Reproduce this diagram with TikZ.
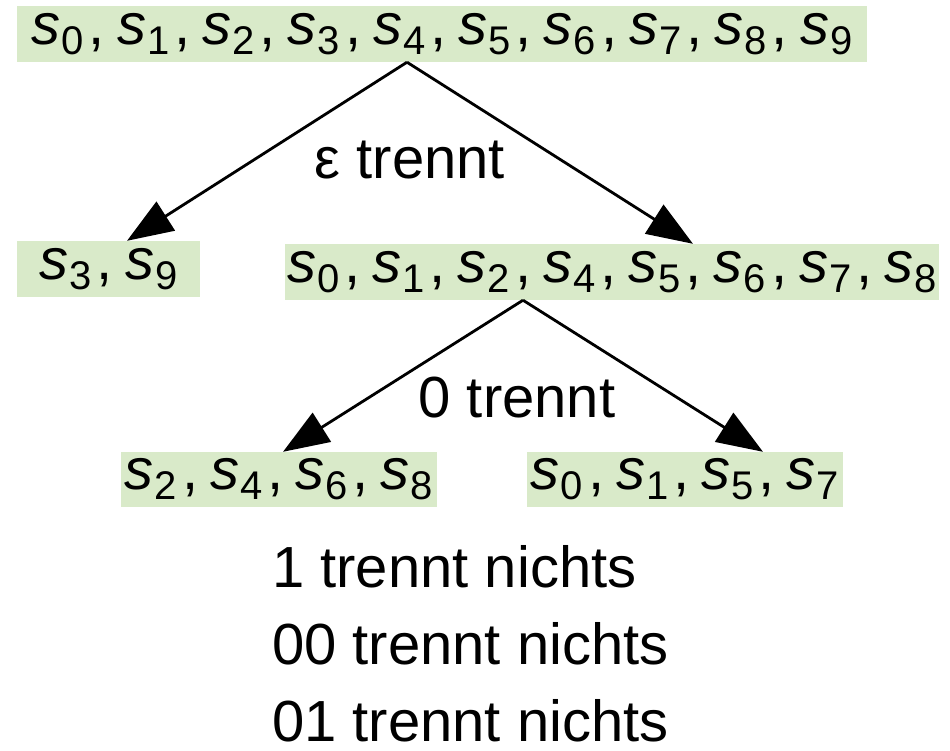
\documentclass[tikz,border=0pt]{standalone}
\usepackage{fontspec}
\setmainfont{Liberation Sans}
\usetikzlibrary{arrows.meta}
\definecolor{setgreen}{RGB}{217,234,201}
% one state s_i, subscript set smaller and lowered
\newcommand{\sv}[1]{\textit{s}\kern1bp\raisebox{-10bp}{\fontsize{40bp}{40bp}\selectfont #1}}
\newcommand{\sep}{\kern5bp,\kern12bp}

\begin{document}
\begin{tikzpicture}[x=1bp,y=-1bp,>={Triangle[length=46bp,width=34bp]},
  menge/.style={fill=setgreen,inner sep=0pt,minimum height=56bp,
    font=\fontsize{58bp}{70bp}\selectfont},
  lbl/.style={inner sep=0pt,font=\fontsize{58bp}{70bp}\selectfont},
  kante/.style={->,line width=2.8bp}]
  \useasboundingbox (0,0) rectangle (950,751);
  % the sets of states
  \node[menge,minimum width=850bp] (all) at (442,34)
    {\sv{0}\sep\sv{1}\sep\sv{2}\sep\sv{3}\sep\sv{4}\sep\sv{5}\sep\sv{6}\sep\sv{7}\sep\sv{8}\sep\sv{9}};
  \node[menge,minimum width=183bp] (a) at (108.5,269) {\sv{3}\sep\sv{9}};
  \node[menge,minimum width=654bp] (b) at (612,272)
    {\sv{0}\sep\sv{1}\sep\sv{2}\sep\sv{4}\sep\sv{5}\sep\sv{6}\sep\sv{7}\sep\sv{8}};
  \node[menge,minimum width=316bp,minimum height=55bp] (ba) at (279,479.5)
    {\sv{2}\sep\sv{4}\sep\sv{6}\sep\sv{8}};
  \node[menge,minimum width=316bp,minimum height=55bp] (bb) at (685,479.5)
    {\sv{0}\sep\sv{1}\sep\sv{5}\sep\sv{7}};
  % splits
  \draw[kante] ([xshift=-35bp]all.south) -- ([xshift=18.5bp]a.north);
  \draw[kante] ([xshift=-35bp]all.south) -- ([xshift=81bp]b.north);
  \draw[kante] ([xshift=-89bp]b.south) -- ([xshift=4bp]ba.north);
  \draw[kante] ([xshift=-89bp]b.south) -- ([xshift=78bp]bb.north);
  \node[lbl,anchor=base] (eps) at (410,178) {ε trennt};
  \node[lbl,anchor=base] (null) at (517,417) {0 trennt};
  % words that separate nothing
  \node[lbl,anchor=base west] (eins) at (272,587) {1 trennt nichts};
  \node[lbl,anchor=base west] (nn) at (272,664) {00 trennt nichts};
  \node[lbl,anchor=base west] (ne) at (272,741) {01 trennt nichts};
\end{tikzpicture}
\end{document}
